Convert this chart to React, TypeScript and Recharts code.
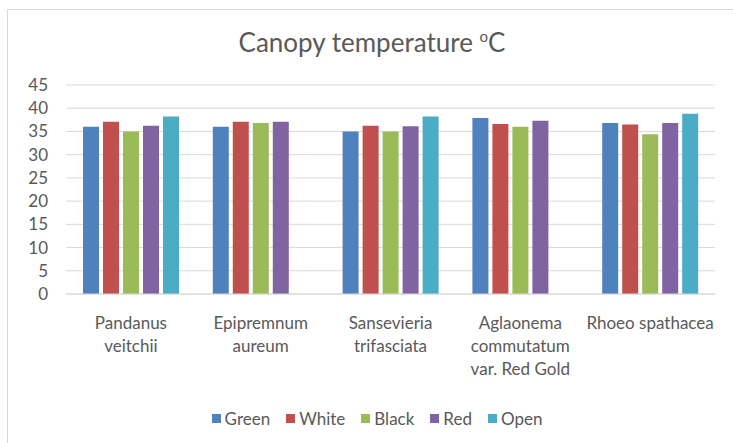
import React from 'react';
import { BarChart, Bar, XAxis, YAxis, CartesianGrid, Legend } from 'recharts';

const categories = [
    'Pandanus\nveitchii',
    'Epipremnum\naureum',
    'Sansevieria\ntrifasciata',
    'Aglaonema\ncommutatum\nvar. Red Gold',
    'Rhoeo spathacea'
];
const green = [36.0, 36.0, 35.0, 37.9, 36.8];
const white = [37.1, 37.1, 36.2, 36.6, 36.5];
const black = [35.0, 36.8, 35.0, 36.0, 34.4];
const red = [36.2, 37.1, 36.1, 37.3, 36.8];
const open = [38.2, null, 38.2, null, 38.8];
const yTicks = [0, 5, 10, 15, 20, 25, 30, 35, 40, 45];

const series = [
    { key: 'Green', values: green, color: '#4F81BD' },
    { key: 'White', values: white, color: '#C0504D' },
    { key: 'Black', values: black, color: '#9BBB59' },
    { key: 'Red', values: red, color: '#8064A2' },
    { key: 'Open', values: open, color: '#4BACC6' }
];

const data = categories.map((name, i) => {
    const row: any = { name };
    series.forEach(s => { row[s.key] = s.values[i]; });
    return row;
});

const FONT = 'Lato, "Open Sans", sans-serif';
const TEXT = '#595959';

const CategoryTick = ({ x, y, payload }: any) => {
    const lines = String(payload.value).split('\n');
    return (
        <text x={x} y={y + 35} textAnchor="middle" fill={TEXT} fontSize={17} fontFamily={FONT}>
            {lines.map((l, i) => (
                <tspan key={i} x={x} dy={i === 0 ? 0 : 23}>{l}</tspan>
            ))}
        </text>
    );
};

const LegendContent = () => (
    <div style={{
        display: 'flex', justifyContent: 'center', alignItems: 'center',
        height: 30, paddingLeft: 29, fontFamily: FONT, fontSize: 17, color: TEXT
    }}>
        {series.map(s => (
            <div key={s.key} style={{ display: 'flex', alignItems: 'center', margin: '0 8px' }}>
                <span style={{ width: 9, height: 9, background: s.color, marginRight: 4 }} />
                <span>{s.key}</span>
            </div>
        ))}
    </div>
);

export default function App() {
    return (
        <div style={{ position: 'fixed', left: 0, top: 0, width: 733, height: 443, background: '#fff' }}>
            <div style={{
                position: 'absolute', left: 7, top: 9, width: 740, height: 450,
                borderLeft: '1px solid #D9D9D9', borderTop: '1px solid #D9D9D9'
            }} />
            <div style={{
                position: 'absolute', left: 0, top: 29, width: 744, textAlign: 'center',
                fontFamily: FONT, fontSize: 26, lineHeight: '26px', color: TEXT
            }}>
                Canopy temperature <span style={{ fontSize: 15, position: 'relative', top: -10 }}>o</span>C
            </div>
            <BarChart
                width={733}
                height={443}
                data={data}
                margin={{ top: 85, right: 18, left: 10, bottom: 10 }}
                barSize={16}
                barGap={4}
                style={{ position: 'absolute', left: 0, top: 0 }}
            >
                <CartesianGrid vertical={false} stroke="#D9D9D9" strokeWidth={1} />
                <XAxis
                    dataKey="name"
                    height={109}
                    axisLine={{ stroke: '#D9D9D9' }}
                    tickLine={false}
                    tickSize={0}
                    tickMargin={0}
                    interval={0}
                    tick={<CategoryTick />}
                />
                <YAxis
                    width={56}
                    domain={[0, 45]}
                    ticks={yTicks}
                    interval={0}
                    axisLine={false}
                    tickLine={false}
                    tickSize={0}
                    tickMargin={18}
                    tick={{ fill: TEXT, fontSize: 17, fontFamily: FONT }}
                />
                <Legend verticalAlign="bottom" height={30} content={<LegendContent />} />
                {series.map(s => (
                    <Bar key={s.key} dataKey={s.key} fill={s.color} isAnimationActive={false} />
                ))}
            </BarChart>
        </div>
    );
}
